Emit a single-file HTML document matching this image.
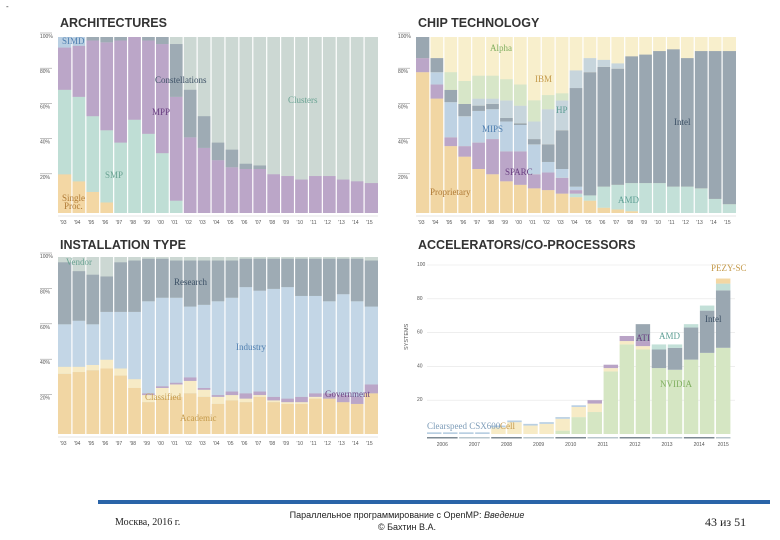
<!DOCTYPE html>
<html><head><meta charset="utf-8"><style>
body{margin:0;width:780px;height:540px;background:#fff;overflow:hidden;font-family:"Liberation Sans",sans-serif}
svg{position:absolute;left:0;top:0}
.t{font-family:"Liberation Sans",sans-serif;font-weight:bold;font-size:12.5px;fill:#333}
.tk{font-size:5px;fill:#555}
.lb{font-family:"Liberation Serif",serif;font-size:9px}
</style></head><body>
<svg id="s" width="780" height="540">
<text x="6" y="9" font-size="8" fill="#333">-</text>
<text class="t" x="60" y="27">ARCHITECTURES</text>
<text class="t" x="418" y="27">CHIP TECHNOLOGY</text>
<text class="t" x="60" y="249">INSTALLATION TYPE</text>
<text class="t" x="418" y="249">ACCELERATORS/CO-PROCESSORS</text>
<g id="g1"></g><g id="g2"></g><g id="g3"></g><g id="g4"></g>
<rect x="98" y="500" width="672" height="4" fill="#2a64a8"/>
<text x="115" y="525" font-family="Liberation Serif,serif" font-size="10" fill="#222">Москва, 2016 г.</text>
<text x="407" y="518" text-anchor="middle" font-size="9" fill="#222">Параллельное программирование с OpenMP: <tspan font-style="italic">Введение</tspan></text>
<text x="407" y="530" text-anchor="middle" font-size="9" fill="#222">© Бахтин В.А.</text>
<text x="705" y="526" font-family="Liberation Serif,serif" font-size="12" fill="#222">43 из 51</text>
</svg>
<script>
const years=["'93","'94","'95","'96","'97","'98","'99","'00","'01","'02","'03","'04","'05","'06","'07","'08","'09","'10","'11","'12","'13","'14","'15"];
// Architectures (bottom to top), Clusters = remainder
const archSingle=[22,18,12,6,0,0,0,0,0,0,0,0,0,0,0,0,0,0,0,0,0,0,0];
const archSMP=[48,48,43,41,40,53,45,34,7,0,0,0,0,0,0,0,0,0,0,0,0,0,0];
const archMPP=[24,29,43,50,58,47,53,62,59,43,37,30,26,25,25,22,21,19,21,21,19,18,17];
const archConst=[0,0,2,3,2,0,2,4,30,27,18,10,10,3,2,0,0,0,0,0,0,0,0];
const archSIMD=[6,5,0,0,0,0,0,0,0,0,0,0,0,0,0,0,0,0,0,0,0,0,0];
// Chip technology, IBM(top)=remainder
const chipProp=[80,65,38,32,25,22,18,16,14,13,11,9,7,3,2,1,0,0,0,0,0,0,0];
const chipAMD=[0,0,0,0,0,0,0,0,0,0,0,2,3,12,14,16,17,17,15,15,14,8,5];
const chipSPARC=[8,8,5,6,15,20,17,19,8,10,9,2,0,0,0,0,0,0,0,0,0,0,0];
const chipMIPS=[0,7,20,17,18,17,17,15,17,6,5,2,0,0,0,0,0,0,0,0,0,0,0];
const chipIntel=[12,8,7,7,3,3,2,1,3,10,22,56,70,68,66,72,73,75,78,73,78,84,87];
const chipHP=[0,0,0,0,4,3,10,10,10,20,17,10,8,4,3,0,0,0,0,0,0,0,0];
const chipAlpha=[0,0,10,13,13,13,12,12,12,8,4,0,0,0,0,0,0,0,0,0,0,0,0];
// Installation type, Vendor = remainder
const instAcad=[34,35,36,37,33,26,18,20,21,23,21,17,19,18,21,18,17,17,20,20,18,17,23];
const instClass=[4,3,3,5,4,5,4,6,7,7,4,4,3,2,1,1,1,1,1,0,0,0,0];
const instGov=[0,0,0,0,0,0,1,1,1,2,1,1,2,3,2,2,2,3,2,3,4,4,5];
const instInd=[24,26,23,27,32,38,52,50,48,40,47,53,53,60,57,61,63,57,55,52,57,54,44];
const instRes=[35,28,28,20,28,29,24,22,21,26,25,23,21,16,18,17,16,21,21,24,20,24,26];
// Accelerators (systems count)
const accLabels=["2006","2007","2008","2009","2010","2011","2012","2013","2014","2015"];
const accNV=[0,0,0,0,0,0,0,0,2,10,13,37,53,50,39,38,44,48,51];
const accCell=[0,0,0,0,4,7,5,6,7,6,5,2,2,2,0,0,0,0,0];
const accCS=[1,1,1,1,1,1,1,1,1,1,0,0,0,0,0,0,0,0,0];
const accATI=[0,0,0,0,0,0,0,0,0,0,2,2,3,3,0,0,0,0,0];
const accIntel=[0,0,0,0,0,0,0,0,0,0,0,0,0,10,11,13,19,25,34];
const accAMD=[0,0,0,0,0,0,0,0,0,0,0,0,0,0,3,2,2,3,4];
const accPEZY=[0,0,0,0,0,0,0,0,0,0,0,0,0,0,0,0,0,0,3];
const accTicks=[20,40,60,80,100];
const pctTicks=["20%","40%","60%","80%","100%"];

const NS="http://www.w3.org/2000/svg";
function mk(parent,tag,attrs){const e=document.createElementNS(NS,tag);for(const k in attrs)e.setAttribute(k,attrs[k]);parent.appendChild(e);return e;}

function pctPanel(gid,x0,x1,yTop,yBot,series,colors,names,restColor,restName,labels){
  const g=document.getElementById(gid);
  const n=years.length,bw=(x1-x0)/n;
  const X=i=>x0+i*bw, Y=v=>yBot-(yBot-yTop)*v/100;
  const bg=mk(g,'rect',{x:x0,y:yTop,width:x1-x0,height:yBot-yTop,fill:restColor});
  
  
  for(let i=0;i<n;i++){
    let c=0;
    series.forEach((s,k)=>{
      if(s[i]<=0)return;
      const r=mk(g,'rect',{x:X(i),y:Y(c+s[i]),width:bw,height:Y(c)-Y(c+s[i]),fill:colors[k]});
      
      
      c+=s[i];
    });
  }
  for(let i=1;i<n;i++){mk(g,'line',{x1:X(i),x2:X(i),y1:yTop,y2:yBot,stroke:'#fff','stroke-width':1.2});}
  pctTicks.forEach((t,k)=>{
    const v=(k+1)*20,yy=Y(v);
    mk(g,'line',{x1:x0-18,x2:x0-6,y1:yy-4,y2:yy-4,stroke:'#999','stroke-width':0.6});
    const tx=mk(g,'text',{x:x0-18,y:yy+1,class:'tk'});tx.textContent=t;
    
    
  });
  mk(g,'line',{x1:x0,x2:x1,y1:yBot+3,y2:yBot+3,stroke:'#ccc','stroke-width':0.6});
  years.forEach((yv,i)=>{
    const tx=mk(g,'text',{x:X(i)+2,y:yBot+11,class:'tk'});tx.textContent=yv;
    
    
  });
  labels.forEach(l=>{
    const tx=mk(g,'text',{x:l[1],y:l[2],class:'lb',fill:l[3]});tx.textContent=l[0];
    
    
  });
}

pctPanel('g1',58,378,37,213,[archSingle,archSMP,archMPP,archConst,archSIMD],
 ['#f3d7a4','#bfded5','#bba6c8','#9eabb4','#b9cfe2'],['single-proc','smp','mpp','constellations','simd'],'#ccd8d3','clusters',
 [['SIMD',62,44,'#4f7fb0'],['Constellations',155,83,'#3d5166'],['Clusters',288,103,'#6aa393'],['MPP',152,115,'#6a3f82'],['SMP',105,178,'#6aa393'],['Single',62,201,'#b07a35'],['Proc.',64,209,'#b07a35']]);
pctPanel('g2',416,736,37,213,[chipProp,chipAMD,chipSPARC,chipMIPS,chipIntel,chipHP,chipAlpha],
 ['#f1d6a3','#c3e0d8','#bba6c8','#bed2e3','#9aa7b1','#c7d5dc','#d7e6c8'],['proprietary','amd','sparc','mips','intel','hp','alpha'],'#f8efcc','ibm',
 [['Alpha',490,51,'#7fae5f'],['IBM',535,82,'#c49a4b'],['HP',556,113,'#5d9e94'],['MIPS',482,132,'#4f7fb0'],['Intel',674,125,'#3d5166'],['SPARC',505,175,'#6a3f82'],['Proprietary',430,195,'#b07a35'],['AMD',618,203,'#5d9e94']]);
pctPanel('g3',58,378,257,434,[instAcad,instClass,instGov,instInd,instRes],
 ['#f1d6a3','#f7ebc6','#bba6c8','#c3d6e6','#9eabb4'],['academic','classified','government','industry','research'],'#ccd8d3','vendor',
 [['Vendor',66,265,'#6aa393'],['Research',174,285,'#3d5166'],['Industry',236,350,'#4f7fb0'],['Classified',145,400,'#c49a4b'],['Government',325,397,'#6a3f82'],['Academic',180,421,'#c49a4b']]);

(function(){
  const g=document.getElementById('g4');
  const x0=427,step=(732-427)/19,bw=step*0.9,yTop=265,yBot=434;
  const Y=v=>yBot-(yBot-yTop)*v/100;
  accTicks.forEach(t=>{
    mk(g,'line',{x1:x0,x2:735,y1:Y(t),y2:Y(t),stroke:'#e4e4e4','stroke-width':0.6});
    const tx=mk(g,'text',{x:417,y:Y(t)+1,class:'tk'});tx.textContent=t;
    
    
  });
  const ser=[accNV,accCell,accCS,accATI,accIntel,accAMD,accPEZY];
  const cols=['#d5e6c3','#f7ebc6','#b9cfe2','#b9a3c6','#9aa7b1','#c3e0d8','#f3d7a4'];
  const nm=['nvidia','cell','clearspeed','ati','intel','amd','pezy-sc'];
  for(let i=0;i<accNV.length;i++){
    let c=0;
    ser.forEach((s,k)=>{
      if(s[i]<=0)return;
      const r=mk(g,'rect',{x:x0+i*step,y:Y(c+s[i]),width:bw,height:Y(c)-Y(c+s[i]),fill:cols[k]});
      
      
      c+=s[i];
    });
  }
  accLabels.forEach((l,j)=>{
    const w=(j<9?2:1)*step-1.5;
    mk(g,'rect',{x:x0+j*2*step,y:437,width:w,height:1.5,fill:j%2?'#b8c6cc':'#7d8a93'});
    const tx=mk(g,'text',{x:x0+j*2*step+w/2,y:446,class:'tk','text-anchor':'middle'});tx.textContent=l;
    
    
  });
  const lbl=[['SYSTEMS',0,0,'#555'],['PEZY-SC',711,271,'#c49a4b'],['Intel',705,322,'#3d5166'],['ATI',636,341,'#6a3f82'],['AMD',659,339,'#5d9e94'],['NVIDIA',660,387,'#7fae5f'],['Cell',500,429,'#c49a4b'],['Clearspeed CSX600',427,429,'#7d9cb8']];
  lbl.forEach((l,k)=>{
    let tx;
    if(k===0){tx=mk(g,'text',{x:0,y:0,'font-size':5.5,fill:l[3],transform:'translate(408,350) rotate(-90)'});}
    else{tx=mk(g,'text',{x:l[1],y:l[2],class:'lb',fill:l[3],'font-size':k===7?5:(k===1?6:8)});}
    tx.textContent=l[0];
    
    
  });
})();
</script>
</body></html>
